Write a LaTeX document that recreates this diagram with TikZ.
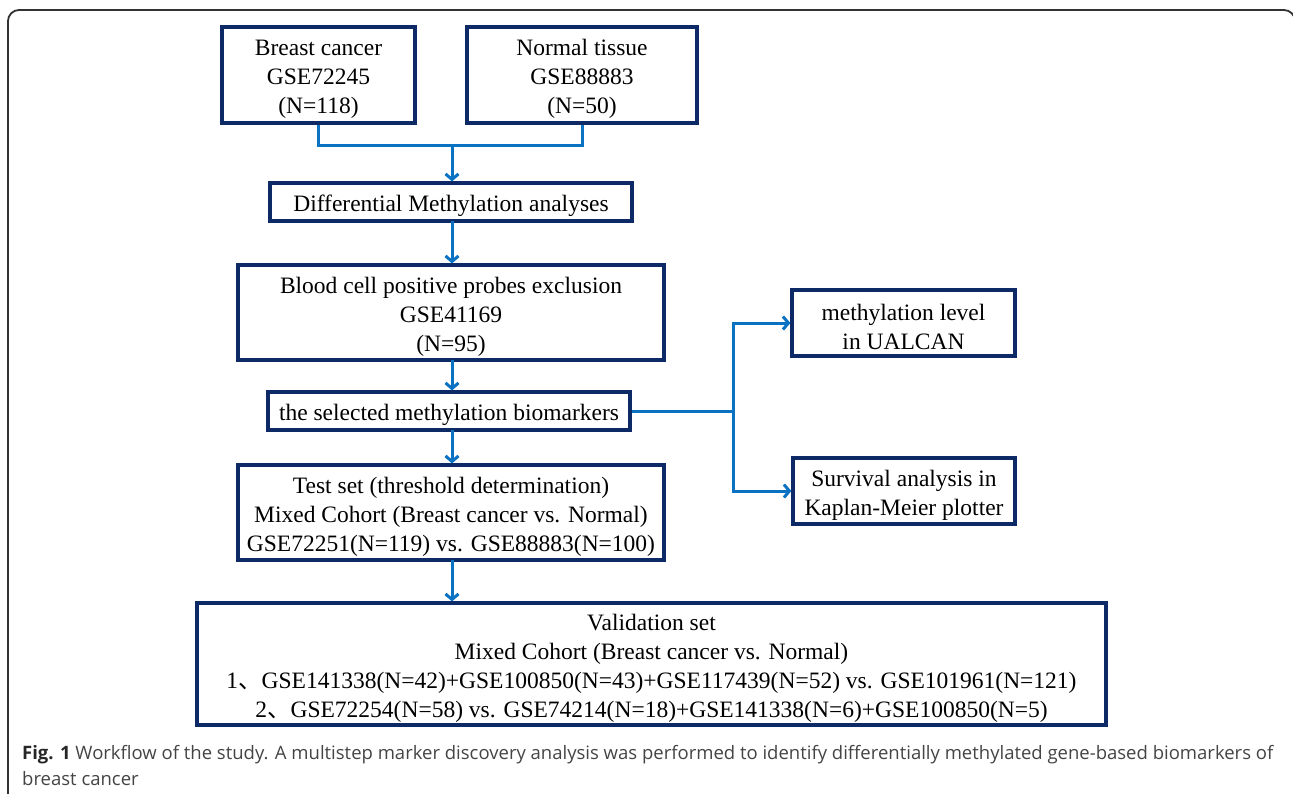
\documentclass[tikz,border=0pt]{standalone}
\usepackage{fontspec}
\setmainfont{Liberation Serif}
\newfontfamily\capfont{Open Sans}
\newfontfamily\cjk{Noto Sans CJK SC}
\usetikzlibrary{arrows.meta}
\definecolor{navy}{HTML}{0E2A66}
\definecolor{arrblue}{HTML}{0A72C2}
\definecolor{frameline}{HTML}{333333}
\definecolor{captext}{HTML}{444444}
\newcommand{\dun}{{\cjk 、}}
\newcommand{\tp}{\rule{0pt}{24.5pt}}
\begin{document}
\begin{tikzpicture}[x=1pt,y=-1pt,
  box/.style={draw=navy, line width=3.2pt, rectangle, inner sep=0pt, align=center,
    font=\fontsize{23.5}{29}\selectfont, text=black},
  conn/.style={draw=arrblue, line width=3pt},
  arr/.style={conn, -{Straight Barb[length=5.5pt,width=13pt]}},
  outerframe/.style={draw=frameline, line width=1.8pt, rounded corners=11pt},
  captxt/.style={anchor=base west, inner sep=0pt, text=captext, font=\capfont\fontsize{18.5}{26}\selectfont}
]
\useasboundingbox (0,0) rectangle (1293,793);
\clip (0,0) rectangle (1293,793);
\draw[outerframe] (8,820) -- (8,10) -- (1295,10) -- (1295,820);

\node[box, minimum width=193pt, minimum height=96pt] (b1) at (318.5,75) {\tp Breast cancer\\GSE72245\\(N=118)};
\node[box, minimum width=230pt, minimum height=96pt] (b2) at (582,75) {\tp Normal tissue\\GSE88883\\(N=50)};
\node[box, minimum width=362pt, minimum height=38pt] (diff) at (451,202) {\tp Differential Methylation analyses};
\node[box, minimum width=426pt, minimum height=95pt] (blood) at (451,312.5) {\tp Blood cell positive probes exclusion\\GSE41169\\(N=95)};
\node[box, minimum width=362pt, minimum height=38pt] (sel) at (449,411) {\tp the selected methylation biomarkers};
\node[box, minimum width=426pt, minimum height=95pt] (test) at (451,512.5) {\tp Test set (threshold determination)\\Mixed Cohort (Breast cancer vs. Normal)\\GSE72251(N=119) vs. GSE88883(N=100)};
\node[box, minimum width=909pt, minimum height=122pt] (val) at (651.5,664) {\tp Validation set\\Mixed Cohort (Breast cancer vs. Normal)\\1\dun GSE141338(N=42)+GSE100850(N=43)+GSE117439(N=52) vs. GSE101961(N=121)\\2\dun GSE72254(N=58) vs. GSE74214(N=18)+GSE141338(N=6)+GSE100850(N=5)};
\node[box, minimum width=223pt, minimum height=66pt] (meth) at (903.5,323) {\tp methylation level\\in UALCAN};
\node[box, minimum width=222pt, minimum height=66pt] (surv) at (904,491) {\tp Survival analysis in\\Kaplan-Meier plotter};

\coordinate (j) at (452,145);
\coordinate (br) at (733,411);
\draw[conn] (b1.south) |- (j) -| (b2.south);
\draw[arr] (j) -- (j |- diff.north);
\draw[arr] (452,221) coordinate (d1) -- (d1 |- blood.north);
\draw[arr] (452,360) coordinate (d2) -- (d2 |- sel.north);
\draw[arr] (452,430) coordinate (d3) -- (d3 |- test.north);
\draw[arr] (452,560) coordinate (d4) -- (d4 |- val.north);
\draw[conn] (sel.east) -- (br);
\draw[arr] (br) |- (meth.west);
\draw[arr] (br) |- (surv.west);

\node[captxt] (c1) at (22,759) {\textcolor{black!85}{\textbf{Fig. 1}} Workflow of the study. A multistep marker discovery analysis was performed to identify differentially methylated gene-based biomarkers of};
\node[captxt] (c2) at (22,785) {breast cancer};
\end{tikzpicture}
\end{document}
